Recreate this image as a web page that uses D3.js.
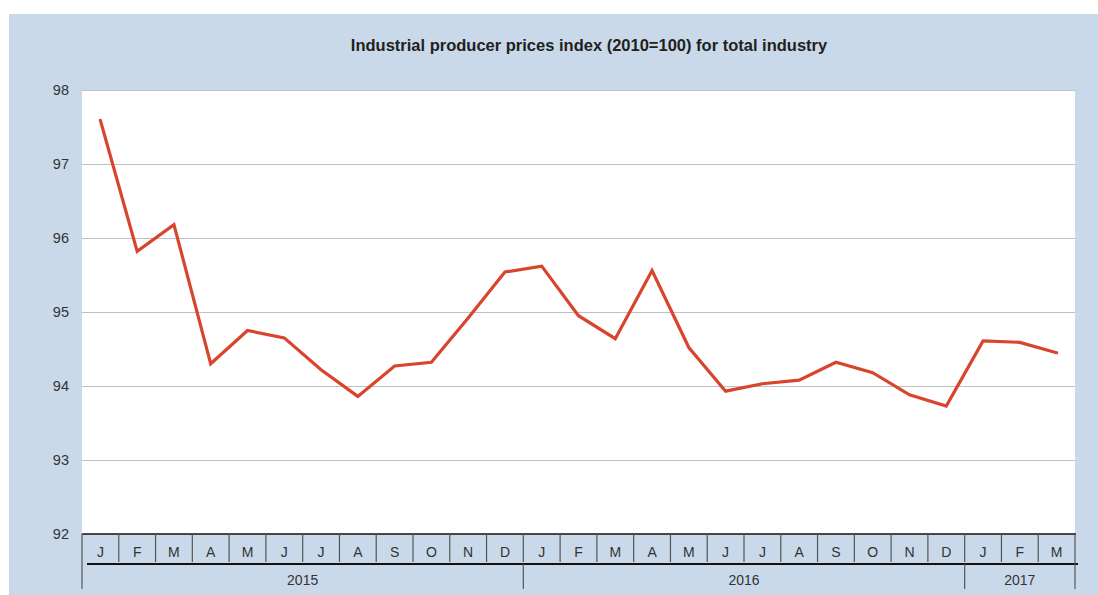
<!DOCTYPE html>
<html>
<head>
<meta charset="utf-8">
<script src="https://cdn.jsdelivr.net/npm/d3@7"></script>
<style>
  html, body { margin: 0; padding: 0; background: #fff; }
  svg { display: block; font-family: "Liberation Sans", Arial, sans-serif; }
</style>
</head>
<body>
<svg id="chart" width="1098" height="595"></svg>
<script>
const monthLabels = ["J","F","M","A","M","J","J","A","S","O","N","D",
                     "J","F","M","A","M","J","J","A","S","O","N","D",
                     "J","F","M"];
const years = ["2015","2016","2017"];
const monthsPerYear = [12, 12, 3];
const values = [97.59, 95.82, 96.18, 94.30, 94.75, 94.65, 94.22, 93.86, 94.27, 94.32, 94.92, 95.54,
                95.62, 94.95, 94.64, 95.56, 94.52, 93.93, 94.03, 94.08, 94.32, 94.18, 93.88, 93.73,
                94.61, 94.59, 94.45];
const yTicks = [92, 93, 94, 95, 96, 97, 98];
const title = "Industrial producer prices index (2010=100) for total industry";

const svg = d3.select("#chart");
const W = 1098, H = 595;
const plot = { left: 82, top: 90, right: 1075, bottom: 534 };

// background panel
svg.append("rect").attr("x", 9).attr("y", 14).attr("width", W - 9).attr("height", H - 14)
  .attr("fill", "#c9d9ea");

// plot area
svg.append("rect").attr("x", plot.left).attr("y", plot.top)
  .attr("width", plot.right - plot.left).attr("height", plot.bottom - plot.top)
  .attr("fill", "#fff");

const x = d3.scaleBand().domain(d3.range(values.length)).range([plot.left, plot.right]).padding(0);
const y = d3.scaleLinear().domain([92, 98]).range([plot.bottom, plot.top]);

// title
svg.append("text").attr("x", 589).attr("y", 51).attr("text-anchor", "middle")
  .attr("font-size", 16.5).attr("font-weight", "bold").attr("fill", "#231f20").text(title);

// gridlines
const yAxis = d3.axisLeft(y).tickValues(yTicks).tickSize(-(plot.right - plot.left)).tickPadding(13)
  .tickFormat(d3.format("d"));
const gy = svg.append("g").attr("transform", `translate(${plot.left},0)`).call(yAxis);
gy.select(".domain").remove();
gy.selectAll(".tick line").attr("stroke", "#c0c0c0").attr("stroke-width", 1)
  .filter(d => d === 92).remove();
gy.selectAll(".tick text").attr("font-size", 14.5).attr("fill", "#333")
  .attr("font-family", "'Liberation Sans', Arial, sans-serif");

// line
const line = d3.line().x((d, i) => x(i) + x.bandwidth() / 2).y(d => y(d));
svg.append("path").datum(values).attr("d", line).attr("fill", "none")
  .attr("stroke", "#d9442c").attr("stroke-width", 3.2).attr("stroke-linejoin", "miter")
  .attr("stroke-linecap", "round");

// month axis
const gx = svg.append("g");
gx.append("line").attr("x1", plot.left).attr("x2", plot.right + 1)
  .attr("y1", plot.bottom).attr("y2", plot.bottom).attr("stroke", "#111").attr("stroke-width", 1.5);
// month dividers
gx.selectAll("line.mdiv").data(d3.range(1, values.length)).join("line").attr("class", "mdiv")
  .attr("x1", i => x(i)).attr("x2", i => x(i)).attr("y1", plot.bottom).attr("y2", 562)
  .attr("stroke", "#555").attr("stroke-width", 1.2);
gx.selectAll("text.mlab").data(monthLabels).join("text").attr("class", "mlab")
  .attr("x", (d, i) => x(i) + x.bandwidth() / 2).attr("y", 557).attr("text-anchor", "middle")
  .attr("font-size", 14).attr("fill", "#333").text(d => d);
// thick line under months
gx.append("line").attr("x1", 87).attr("x2", 1078).attr("y1", 564).attr("y2", 564)
  .attr("stroke", "#111").attr("stroke-width", 2);
// year dividers
let cum = [0];
monthsPerYear.forEach(m => cum.push(cum[cum.length - 1] + m));
const bx = i => (i >= values.length ? plot.right : x(i));
gx.selectAll("line.ydiv").data(cum).join("line").attr("class", "ydiv")
  .attr("x1", i => bx(i)).attr("x2", i => bx(i))
  .attr("y1", (i, k) => (k === 0 || k === cum.length - 1) ? plot.bottom : 564).attr("y2", 589)
  .attr("stroke", "#555").attr("stroke-width", 1.2);
gx.selectAll("text.ylab").data(years).join("text").attr("class", "ylab")
  .attr("x", (d, k) => (bx(cum[k]) + bx(cum[k + 1])) / 2).attr("y", 585).attr("text-anchor", "middle")
  .attr("font-size", 14).attr("fill", "#333").text(d => d);
</script>
</body>
</html>
